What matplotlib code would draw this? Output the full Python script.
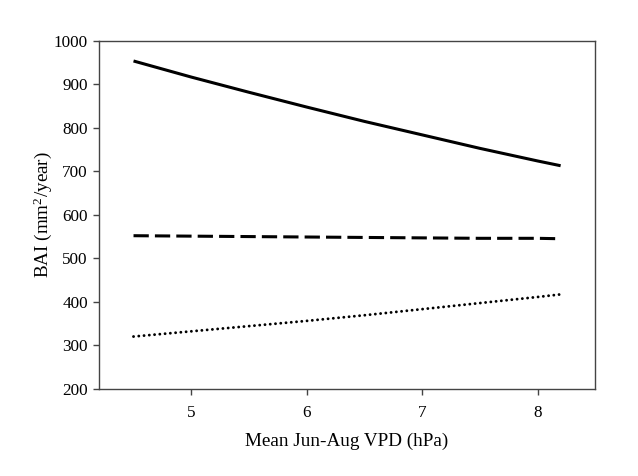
import matplotlib
matplotlib.use("Agg")
import matplotlib.pyplot as plt

plt.rcParams['font.family'] = ['Liberation Serif', 'DejaVu Serif']
plt.rcParams['mathtext.fontset'] = 'custom'
plt.rcParams['mathtext.rm'] = 'Liberation Serif'
plt.rcParams['mathtext.it'] = 'Liberation Serif:italic'

vpd = [4.5, 5.0, 5.5, 6.0, 6.5, 7.0, 7.5, 8.0, 8.2]
bai_solid = [954, 917, 882, 848, 815, 784, 753, 724, 713]
bai_dashed = [552, 551, 550, 549, 548, 547, 546, 546, 545]
bai_dotted = [320, 332, 344, 356, 369, 383, 397, 411, 417]

xticks = [5, 6, 7, 8]
yticks = [200, 300, 400, 500, 600, 700, 800, 900, 1000]

fig = plt.figure(figsize=(6.38, 4.76), dpi=100)
ax = fig.add_axes([0.155, 0.1834, 0.778, 0.7305])

ax.plot(vpd, bai_solid, color='black', lw=2.2, solid_capstyle='butt')
ax.plot(vpd, bai_dashed, color='black', lw=2.2, dashes=(5, 2), dash_capstyle='butt')
ax.plot(vpd, bai_dotted, color='black', lw=2.1, dashes=(0.01, 1.8), dash_capstyle='round')

ax.set_xlim(4.2, 8.5)
ax.set_ylim(200, 1000)
ax.set_xticks(xticks)
ax.set_yticks(yticks)
ax.tick_params(axis='both', direction='out', length=4, width=1, color='#444444',
               labelsize=12.3, top=False, right=False)
ax.tick_params(axis='x', pad=8)
ax.tick_params(axis='y', pad=4)
for s in ax.spines.values():
    s.set_color('#444444')
    s.set_linewidth(1)

ax.set_xlabel('Mean Jun-Aug VPD (hPa)', fontsize=13.8, labelpad=8)
ax.set_ylabel('BAI (mm$^{2}$/year)', fontsize=13.8, labelpad=0)

fig.savefig('out.png', dpi=100)
